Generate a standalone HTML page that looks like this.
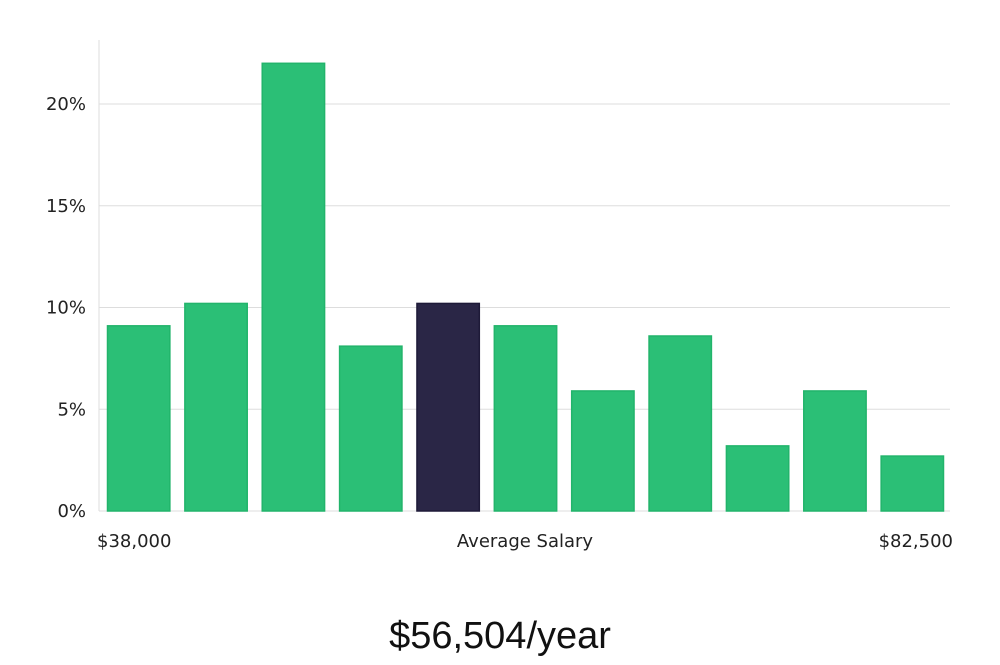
<!DOCTYPE html>
<html><head><meta charset="utf-8"><style>
html,body{margin:0;padding:0;background:#fff;}
svg text{font-family:"DejaVu Sans","Liberation Sans",sans-serif;fill:#222;}
</style></head><body>
<svg id="chart" width="1000" height="660" viewBox="0 0 1000 660" xmlns="http://www.w3.org/2000/svg">
<g id="grid"></g>
<g id="bars"></g>
<g id="yaxis"></g>
<text x="97" y="547" font-size="18">$38,000</text>
<text x="525" y="547" font-size="18" text-anchor="middle">Average Salary</text>
<text x="953" y="547" font-size="18" text-anchor="end">$82,500</text>
<text x="500" y="648" font-size="38" text-anchor="middle" style="font-family:'Liberation Sans',sans-serif;font-weight:300;fill:#111">$56,504/year</text>
</svg>
<script>
const categories = ["b1","b2","b3","b4","b5","b6","b7","b8","b9","b10","b11"];
const values = [9.1,10.2,22.0,8.1,10.2,9.1,5.9,8.6,3.2,5.9,2.7];
const highlightIndex = 4;
const yTicks = [0,5,10,15,20];
const yTickLabels = ["0%","5%","10%","15%","20%"];
const NS="http://www.w3.org/2000/svg";
const x0=99,x1=950,yBase=511,yTop20=104;
function yScale(v){return yBase-(v/20)*(yBase-yTop20);}
const band=(x1-x0)/categories.length;
function xScale(i){return x0+i*band;}
const grid=document.getElementById('grid'),bars=document.getElementById('bars'),ya=document.getElementById('yaxis');
yTicks.forEach((t,i)=>{
 const l=document.createElementNS(NS,'line');
 
 
 l.setAttribute('x1',x0);l.setAttribute('x2',x1);l.setAttribute('y1',yScale(t));l.setAttribute('y2',yScale(t));
 l.setAttribute('stroke','#ddd');l.setAttribute('stroke-width','1');grid.appendChild(l);
 const tx=document.createElementNS(NS,'text');
 
 
 tx.setAttribute('x',86);tx.setAttribute('y',yScale(t)+6);tx.setAttribute('text-anchor','end');tx.setAttribute('font-size','18');
 tx.textContent=yTickLabels[i];ya.appendChild(tx);
});
const ax=document.createElementNS(NS,'line');


ax.setAttribute('x1',x0);ax.setAttribute('x2',x0);ax.setAttribute('y1',40);ax.setAttribute('y2',yBase);ax.setAttribute('stroke','#ddd');ya.appendChild(ax);
values.forEach((v,i)=>{
 const r=document.createElementNS(NS,'rect');
 
 
 const hl=i===highlightIndex;
 r.setAttribute('x',xScale(i)+8.5);r.setAttribute('width',band-15);
 r.setAttribute('y',yScale(v));r.setAttribute('height',yBase-yScale(v));
 r.setAttribute('fill',hl?'#2a2646':'#2bbf76');r.setAttribute('stroke',hl?'#1e1a38':'#22b46b');r.setAttribute('stroke-width','1.5');
 bars.appendChild(r);
});
</script>
</body></html>
